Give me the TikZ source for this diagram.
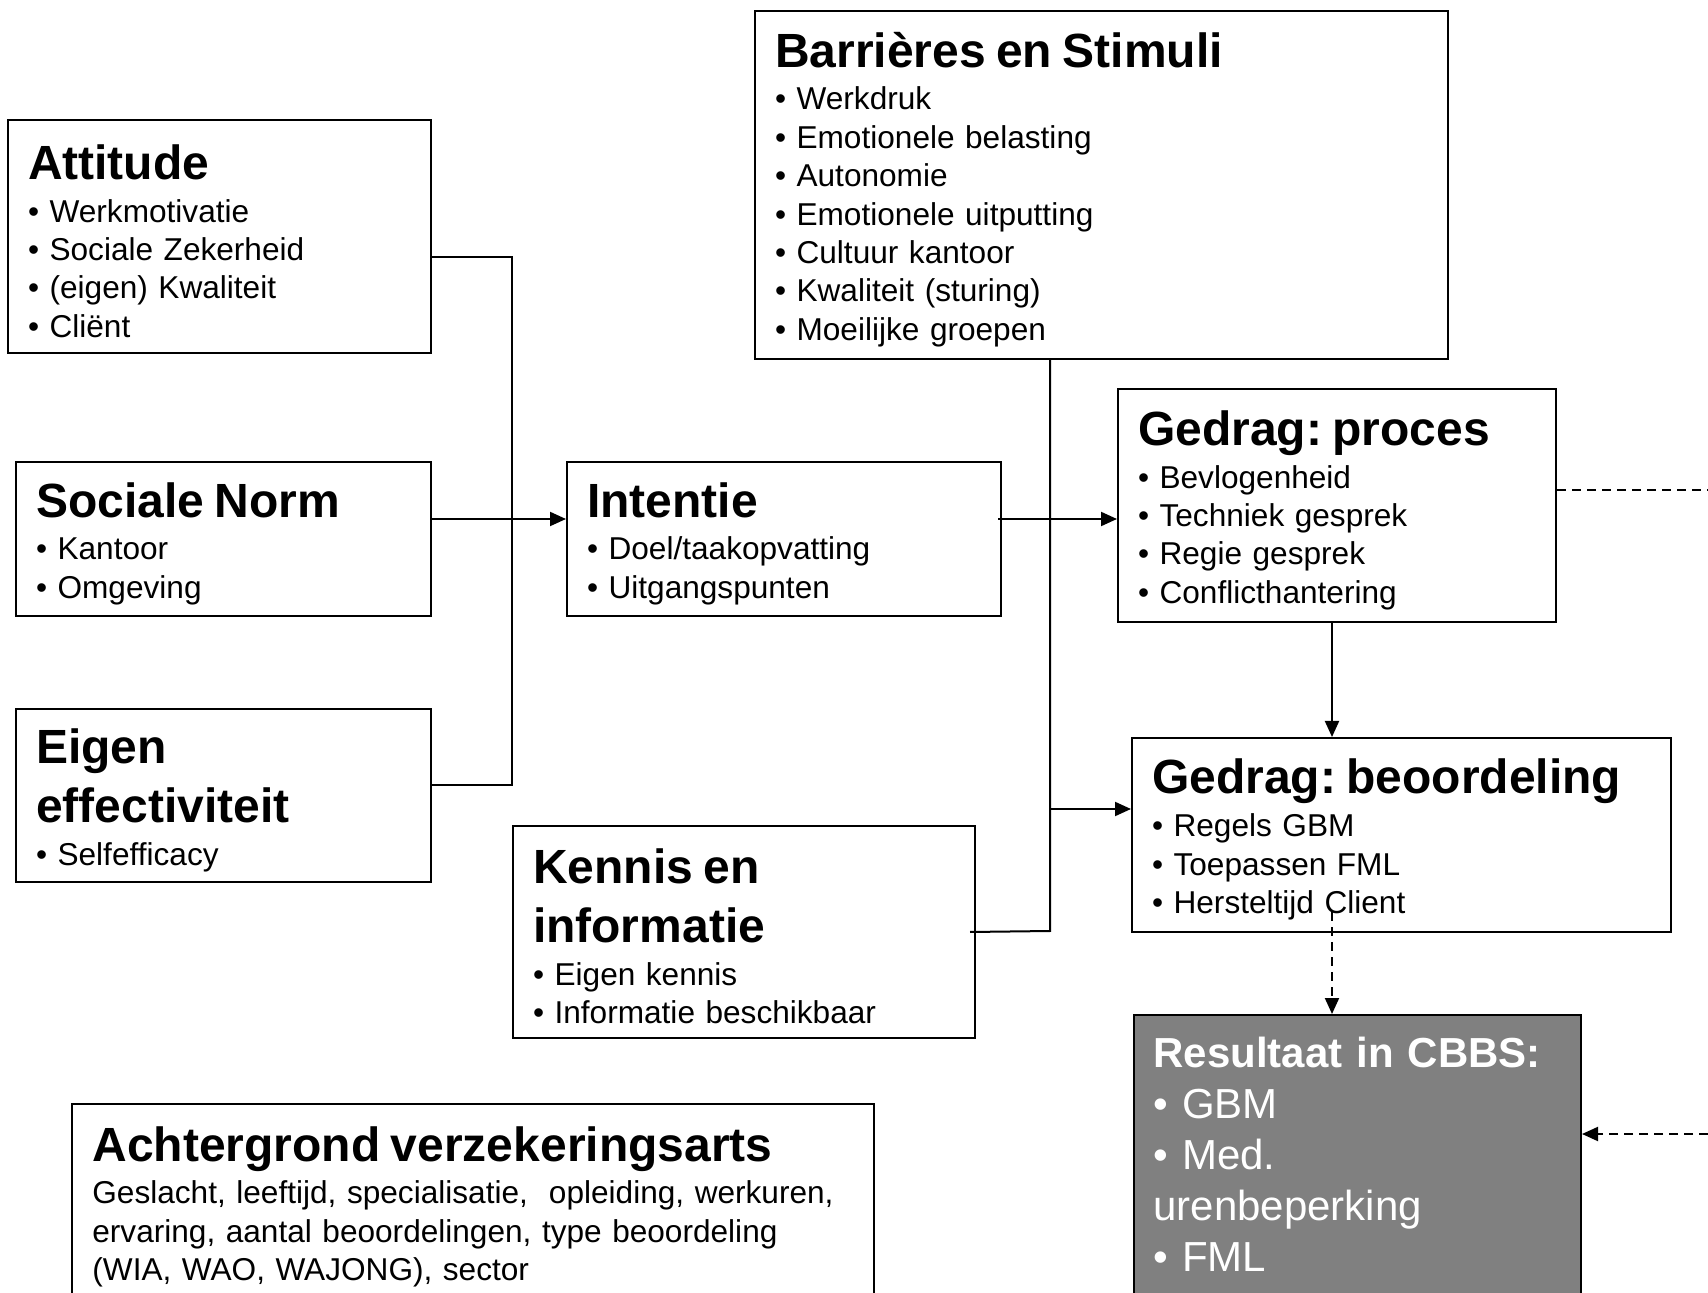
\documentclass[tikz,border=0pt]{standalone}
\usepackage{fontspec}
\setmainfont{Liberation Sans}
\frenchspacing
\usetikzlibrary{arrows.meta}
\newcommand{\ttl}{\fontsize{24pt}{29.5pt}\selectfont\bfseries}
\newcommand{\txt}{\fontsize{15.8pt}{19.2pt}\selectfont}
\newcommand{\restxt}{\fontsize{21pt}{25.5pt}\selectfont}
\newcommand{\kop}[1]{{\ttl\rule{0pt}{22pt}#1\par}\vspace{2.2pt}}
\tikzset{
  panel/.style={draw, line width=1pt, anchor=north west, align=left,
    inner xsep=10pt, inner ysep=0pt, font=\txt},
  arr/.style={line width=1pt, -{Triangle[length=8pt,width=7pt]}},
  dsh/.style={line width=1pt, dash pattern=on 4.5pt off 3pt},
}
\begin{document}
\begin{tikzpicture}[x=0.5pt,y=-0.5pt]
                \clip (0,0) rectangle (1708,1293);
                %% left column
                \node[panel, text width=191.5pt, minimum height=116.5pt] (att) at (7,119)
                  {\kop{Attitude}• Werkmotivatie\\• Sociale Zekerheid\\• (eigen) Kwaliteit\\• Cliënt};
                \node[panel, text width=187.5pt, minimum height=77pt] (norm) at (15,461)
                  {\kop{Sociale Norm}• Kantoor\\• Omgeving};
                \node[panel, text width=187.5pt, minimum height=86.5pt] (eigen) at (15,708)
                  {\kop{Eigen\\effectiviteit}• Selfefficacy};
                %% middle
                \node[panel, text width=197pt, minimum height=77pt] (intentie) at (566,461)
                  {\kop{Intentie}• Doel/taakopvatting\\• Uitgangspunten};
                \node[panel, text width=211pt, minimum height=106pt] (kennis) at (512,825)
                  {\kop{Kennis en\\informatie}• Eigen kennis\\• Informatie beschikbaar};
                \node[panel, text width=326.5pt, minimum height=174pt] (barr) at (754,10)
                  {\kop{Barrières en Stimuli}• Werkdruk\\• Emotionele belasting\\• Autonomie\\• Emotionele uitputting\\• Cultuur kantoor\\• Kwaliteit (sturing)\\• Moeilijke groepen};
                %% gedrag
                \node[panel, text width=199pt, minimum height=116.5pt] (proces) at (1117,388)
                  {\kop{Gedrag: proces}• Bevlogenheid\\• Techniek gesprek\\• Regie gesprek\\• Conflicthantering};
                \node[panel, text width=249.5pt, minimum height=97pt] (beoord) at (1131,737)
                  {\kop{Gedrag: beoordeling}• Regels GBM\\• Toepassen FML\\• Hersteltijd Client};
                %% achtergrond
                \node[panel, minimum width=401pt, minimum height=200pt] (achter) at (71,1103) {};
                \node[anchor=base west, align=left, text width=380pt, inner sep=0pt, font=\txt] (achtertekst) at (92,1161)
                  {{\ttl Achtergrond verzekeringsarts\par}\vspace{2.2pt}Geslacht, leeftijd, specialisatie,\ \ opleiding, werkuren,\\ervaring, aantal beoordelingen, type beoordeling\\(WIA, WAO, WAJONG), sector};
                %% resultaat
                \node[panel, fill=black!50, minimum width=223.5pt, minimum height=200pt] (res) at (1133,1014) {};
                \node[anchor=base west, align=left, text width=200pt, inner sep=0pt, font=\restxt, text=white] (restekst) at (1153,1067)
                  {{\bfseries Resultaat in CBBS:}\\• GBM\\• Med.\\urenbeperking\\• FML};
                %% links naar intentie
                \coordinate (top) at (512,257);
                \coordinate (mid) at (512,519);
                \coordinate (bot) at (512,785);
                \draw[line width=1pt] (att.east |- top) -- (top) -- (bot) -- (eigen.east |- bot);
                \draw[arr] (norm.east |- mid) -- (intentie.west |- mid);
                \draw[arr] ([xshift=-2pt]intentie.east |- mid) -- (proces.west |- mid);
                %% barrieres en kennis
                \coordinate (bx) at (1050,931);
                \coordinate (bbr) at (1050,809);
                \draw[line width=1pt] (barr.south -| bx) -- (bx) -- ([xshift=-3pt]kennis.east);
                \draw[arr] (bbr) -- (beoord.west |- bbr);
                %% gedrag naar resultaat
                \coordinate (dx) at (1332,912);
                \coordinate (pout) at (1708,490);
                \coordinate (rin) at (1708,1134);
                \draw[arr] (proces.south -| dx) -- (beoord.north -| dx);
                \draw[dsh, -{Triangle[length=8pt,width=7pt]}] (dx) -- (dx |- res.north);
                \draw[dsh] (proces.east |- pout) -- (pout);
                \draw[dsh, -{Triangle[length=8pt,width=7pt]}] (rin) -- (res.east |- rin);
\end{tikzpicture}
\end{document}
